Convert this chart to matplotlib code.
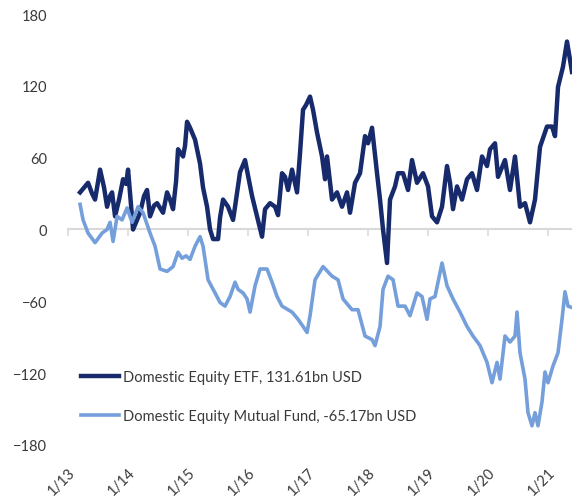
import matplotlib
matplotlib.use("Agg")
import matplotlib.pyplot as plt
import numpy as np
import pandas as pd

# months since 1/13 and flows (bn USD)
etf_months = [2.4, 3.4, 4.0, 4.8, 5.4, 6.4, 7.2, 7.8, 8.4, 8.8,
              9.4, 10.2, 11.0, 11.6, 12.0, 12.6, 13.0, 13.8, 14.4, 15.2,
              15.8, 16.4, 17.2, 17.8, 18.4, 19.0, 19.8, 20.4, 21.0, 21.6,
              22.0, 23.0, 23.4, 23.8, 24.4, 25.4, 26.4, 27.0, 27.8, 28.4,
              29.0, 30.0, 30.4, 31.0, 32.0, 33.0, 33.4, 34.4, 35.4, 36.0,
              36.8, 37.8, 38.8, 39.4, 40.4, 41.4, 42.0, 42.8, 43.4, 44.0,
              44.8, 45.8, 46.4, 47.0, 47.6, 48.4, 49.0, 49.8, 50.8, 51.4,
              51.8, 52.8, 53.8, 54.8, 55.8, 56.4, 57.4, 58.4, 59.4, 60.0,
              60.8, 61.8, 62.4, 63.0, 63.8, 64.4, 65.4, 66.0, 67.0, 68.0,
              68.8, 69.8, 71.0, 72.0, 72.8, 73.8, 74.8, 75.8, 76.4, 77.0,
              77.8, 78.8, 79.8, 80.8, 81.8, 82.8, 83.8, 84.4, 85.4, 86.0,
              87.4, 88.4, 89.4, 90.4, 91.4, 92.4, 93.4, 94.4, 95.8, 96.8,
              97.4, 98.0, 99.0, 99.8, 100.8]
etf_values = [31, 36, 39, 30, 25, 50, 35, 19, 28, 31,
              11, 25, 42, 38, 50, 20, 0, 8, 14, 28,
              33, 11, 20, 22, 18, 14, 31, 25, 17, 40,
              67, 61, 70, 90, 85, 75, 55, 35, 19, 0,
              -8, -8, 10, 25, 19, 8, 19, 48, 58, 45,
              28, 11, -6, 17, 22, 19, 12, 47, 44, 33,
              50, 31, 64, 100, 104, 111, 100, 81, 61, 42,
              61, 25, 31, 19, 31, 14, 39, 47, 78, 72,
              85, 47, 25, 0, -28, 25, 36, 47, 47, 33,
              58, 39, 47, 36, 11, 6, 19, 53, 39, 17,
              36, 25, 42, 47, 33, 61, 53, 67, 72, 44,
              58, 33, 61, 19, 22, 6, 25, 69, 86, 86,
              78, 119, 136, 157, 131.61]

mf_months = [2.4, 3.0, 4.0, 5.4, 6.8, 7.8, 8.4, 9.0, 9.8, 10.8,
             11.8, 12.8, 14.0, 15.0, 16.4, 17.4, 18.4, 19.8, 21.0, 22.0,
             22.8, 23.6, 24.4, 25.4, 26.4, 27.0, 28.0, 29.4, 30.4, 31.4,
             32.4, 33.4, 34.0, 35.0, 35.8, 36.4, 37.4, 38.4, 39.8, 40.8,
             41.8, 42.8, 44.0, 44.8, 46.0, 47.0, 47.8, 48.4, 49.4, 51.0,
             52.8, 54.0, 55.0, 56.8, 58.0, 59.4, 60.8, 61.4, 62.4, 63.0,
             64.0, 65.0, 66.0, 67.4, 68.4, 69.8, 70.8, 71.8, 72.4, 73.4,
             74.8, 75.8, 77.0, 78.4, 79.8, 81.0, 82.4, 83.8, 84.8, 85.8,
             86.4, 87.4, 88.4, 89.4, 89.8, 90.4, 91.4, 92.0, 92.8, 93.4,
             94.0, 94.8, 95.4, 96.0, 97.0, 98.0, 98.8, 99.4, 100.0, 100.8]
mf_values = [21, 8, -3, -11, -3, 0, 6, -10, 11, 8,
             18, 6, 19, 14, -3, -14, -33, -35, -31, -19,
             -24, -22, -25, -14, -6, -14, -42, -53, -61, -64,
             -56, -44, -50, -53, -58, -69, -47, -33, -33, -44,
             -56, -64, -67, -69, -75, -81, -86, -72, -42, -31,
             -39, -42, -58, -67, -67, -89, -92, -97, -81, -50,
             -39, -42, -64, -64, -72, -53, -56, -75, -58, -56,
             -28, -47, -58, -69, -81, -89, -97, -111, -128, -111,
             -125, -89, -94, -89, -69, -103, -125, -153, -164, -153,
             -164, -144, -119, -128, -114, -103, -75, -52, -64, -65.17]

years = list(range(2013, 2022))
tick_labels = ['1/%02d' % (y % 100) for y in years]
labels = ['Domestic Equity ETF, 131.61bn USD',
          'Domestic Equity Mutual Fund, -65.17bn USD']

start = pd.Timestamp('2013-01-01')
def to_dates(months):
    return start + pd.to_timedelta(np.array(months) * 30.44, unit='D')

plt.rcParams['font.family'] = ['Lato', 'DejaVu Sans']
text_color = '#3a3a3a'
grid_gray = '#d9d9d9'

fig = plt.figure(figsize=(5.72, 5.02), dpi=100)
ax = fig.add_axes([0.119, 0.1116, 0.881, 0.8585])

ax.plot(to_dates(etf_months), etf_values, color='#172a6b', lw=3.2, label=labels[0], zorder=3)
ax.plot(to_dates(mf_months), mf_values, color='#749fdb', lw=2.6, label=labels[1], zorder=3)

ax.set_ylim(-180, 180)
ax.set_yticks(np.arange(-180, 181, 60))
ax.set_xlim(start, to_dates([100.8])[0])

ticks = [pd.Timestamp('%d-01-01' % y) for y in years]
ax.set_xticks(ticks)
ax.set_xticklabels(tick_labels, rotation=45, ha='right', va='top',
                   rotation_mode='anchor')

for s in ax.spines.values():
    s.set_visible(False)
ax.tick_params(axis='y', length=0, pad=15, labelsize=10.5, labelcolor=text_color)
ax.tick_params(axis='x', length=0, pad=14, labelsize=10.5, labelcolor=text_color)

# zero line with tick marks hanging below it
sec = ax.secondary_xaxis(0.5)
sec.set_xticks(ticks)
sec.set_xticklabels([])
for s in sec.spines.values():
    s.set_color(grid_gray)
    s.set_linewidth(1.5)
sec.xaxis.set_ticks_position('bottom')
sec.tick_params(axis='x', direction='out', length=5, color=grid_gray, width=1.2)
sec.set_zorder(1)

leg = ax.legend(loc='lower left', bbox_to_anchor=(0.0, 0.02), frameon=False,
                fontsize=10.5, handlelength=2.6, handletextpad=0.3,
                labelspacing=1.75)
for t in leg.get_texts():
    t.set_color(text_color)

fig.savefig('out.png', dpi=100)
